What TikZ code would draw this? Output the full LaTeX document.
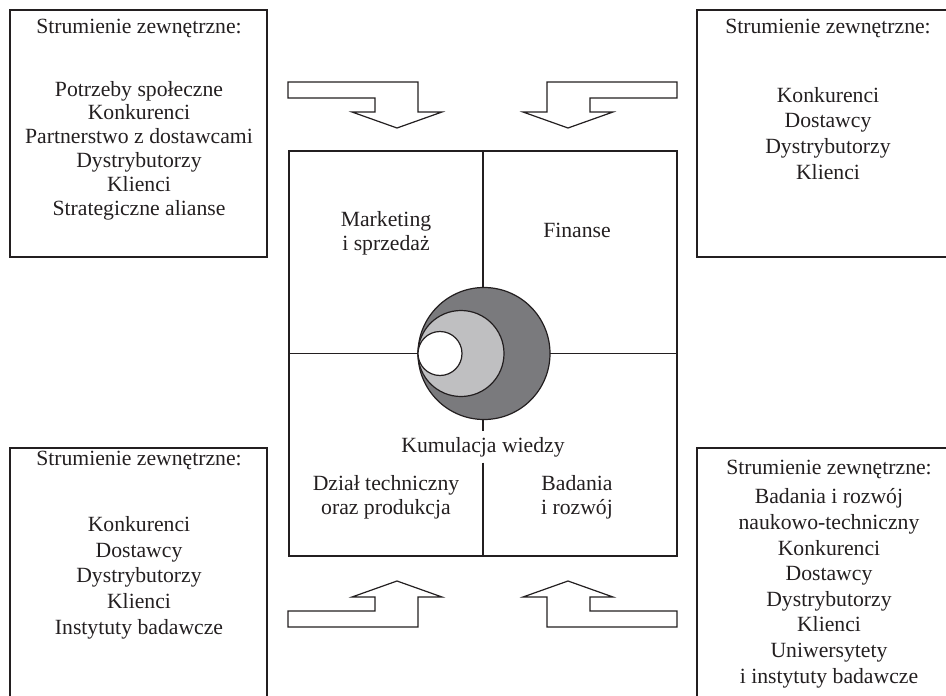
\documentclass[tikz,border=0pt]{standalone}
\usepackage{fontspec}
\setmainfont{Liberation Serif}
\definecolor{ink}{HTML}{231F20}
\definecolor{darkdisc}{HTML}{7A7A7D}
\definecolor{lightdisc}{HTML}{BFBFC1}
\begin{document}
\begin{tikzpicture}[x=1pt,y=-1pt,
  line width=1.2pt, draw=ink, line join=miter,
  frame/.style={draw=ink, line width=1.2pt},
  % multi-line nodes are placed by the baseline of their last line
  txt/.style={align=center, inner sep=0pt, outer sep=0pt, text=ink, anchor=base,
    font=\fontsize{21.7}{25.6}\selectfont},
  tight/.style={font=\fontsize{21.7}{23.8}\selectfont},
  mid/.style={font=\fontsize{21.7}{24.5}\selectfont},
  disc/.style={circle, draw=ink, line width=1.2pt, inner sep=0pt, outer sep=0pt},
  flow/.style={draw=ink, fill=white, line width=1.2pt}]
\useasboundingbox (0,0) rectangle (946,696);
\clip (0,0) rectangle (946,696);

% outer boxes of external streams
\draw[frame] (10,10) rectangle (267,257);
\draw[frame] (697,10) rectangle (970,257);
\draw[frame] (10,448) rectangle (267,720);
\draw[frame] (697,448) rectangle (970,720);

\node[txt] (tlh) at (139,33) {Strumienie zewnętrzne:};
\node[txt, tight] (tll) at (139,215) {Potrzeby społeczne\\Konkurenci\\Partnerstwo z dostawcami\\Dystrybutorzy\\Klienci\\Strategiczne alianse};

\node[txt] (trh) at (828,33) {Strumienie zewnętrzne:};
\node[txt] (trl) at (828,179) {Konkurenci\\Dostawcy\\Dystrybutorzy\\Klienci};

\node[txt] (blh) at (139,465) {Strumienie zewnętrzne:};
\node[txt] (bll) at (139,634) {Konkurenci\\Dostawcy\\Dystrybutorzy\\Klienci\\Instytuty badawcze};

\node[txt] (brh) at (829,474) {Strumienie zewnętrzne:};
\node[txt] (brl) at (829,683) {Badania i rozwój\\naukowo-techniczny\\Konkurenci\\Dostawcy\\Dystrybutorzy\\Klienci\\Uniwersytety\\i instytuty badawcze};

% flow arrows
\draw[flow] (288,82) -- (418,82) -- (418,112) -- (442,112) -- (397,128) -- (352,112)
  -- (375,112) -- (375,98) -- (288,98) -- cycle;
\draw[flow] (677,82) -- (547,82) -- (547,112) -- (523,112) -- (568,128) -- (613,112)
  -- (590,112) -- (590,98) -- (677,98) -- cycle;
\draw[flow] (288,627) -- (418,627) -- (418,597) -- (442,597) -- (397,581) -- (352,597)
  -- (375,597) -- (375,611) -- (288,611) -- cycle;
\draw[flow] (677,627) -- (547,627) -- (547,597) -- (523,597) -- (568,581) -- (613,597)
  -- (590,597) -- (590,611) -- (677,611) -- cycle;

% company core
\node[frame, rectangle, inner sep=0pt, outer sep=0pt, minimum width=388pt, minimum height=405pt]
  (core) at (483,353.5) {};

\node[disc, fill=darkdisc, minimum size=132pt] (big) at (484,353.5) {};
\node[disc, fill=lightdisc, minimum size=86pt] (med) at (461,353.5) {};
\node[disc, fill=white, minimum size=44pt] (small) at (440,353.5) {};

\node[txt, inner ysep=6pt] (kum) at (483,452) {Kumulacja wiedzy};

\draw (core.north) -- (core.north |- big.north);
\draw (core.west) -- (big.west);
\draw (big.east) -- (core.east);
\draw (core.south |- big.south) -- (kum.north);
\draw (kum.south) -- (core.south);

\node[txt, mid] (mkt) at (386,250.5) {Marketing\\i sprzedaż};
\node[txt] (fin) at (577,237) {Finanse};
\node[txt, mid] (tech) at (386,514.5) {Dział techniczny\\oraz produkcja};
\node[txt, mid] (rnd) at (577,514.5) {Badania\\i rozwój};
\end{tikzpicture}
\end{document}
